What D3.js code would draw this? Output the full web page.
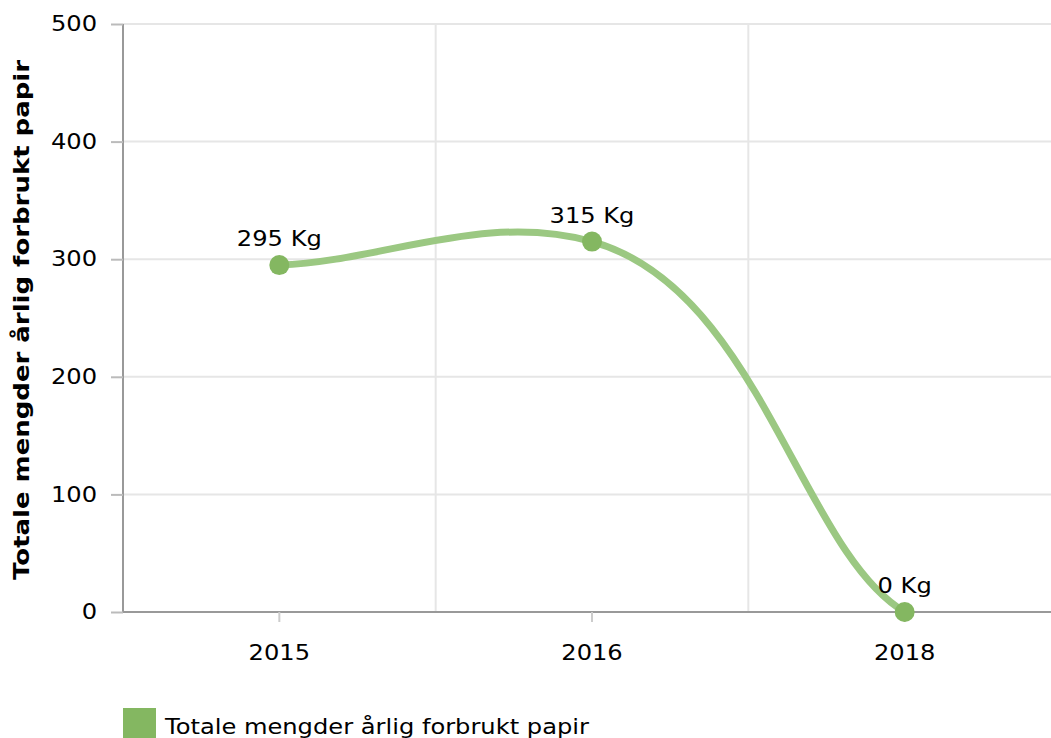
<!DOCTYPE html>
<html>
<head>
<meta charset="utf-8">
<script src="https://cdn.jsdelivr.net/npm/d3@7"></script>
<style>
  body { margin: 0; background: #fff; }
  svg { display: block; font-family: "DejaVu Sans", Verdana, sans-serif; }
</style>
</head>
<body>
<svg id="chart" width="1051" height="738"></svg>
<script>
// data
var years = ["2015", "2016", "2018"];
var values = [295, 315, 0];
var yTicks = [0, 100, 200, 300, 400, 500];
var seriesName = "Totale mengder årlig forbrukt papir";
var yTitle = "Totale mengder årlig forbrukt papir";

var lineColor = "#9bc882",
    dotColor = "#84b761";

var margin = {top: 24, left: 123, right: -10, bottom: 126};
var width = 1051 - margin.left - margin.right,     // plot runs a bit past the window
    height = 738 - margin.top - margin.bottom;

var stretch = 1.15;                                 // the original text is drawn a bit wider

var svg = d3.select("#chart");
var g = svg.append("g").attr("transform", "translate(" + margin.left + "," + margin.top + ")");

var x = d3.scaleBand().domain(years).range([0, width]);
var y = d3.scaleLinear().domain([0, 500]).range([height, 0]);

// widen a text selection to match the original
function widen(sel, k){
    sel.each(function(){
        var w = this.getComputedTextLength();
        d3.select(this).attr("textLength", w * k).attr("lengthAdjust", "spacingAndGlyphs");
    });
}

// smoothed line, control handles like the charting tool of the original
function SmoothCurve(context){ this._context = context; }
SmoothCurve.prototype = {
    areaStart: function(){},
    areaEnd: function(){},
    lineStart: function(){ this._pts = []; },
    point: function(px, py){ this._pts.push([+px, +py]); },
    lineEnd: function(){
        var p = this._pts, c = this._context, n = p.length, k = 0.44;
        if (!n) return;
        c.moveTo(p[0][0], p[0][1]);
        if (n == 1) return;
        var h = [];
        for (var i = 0; i < n; i++){
            if (i == 0){
                var r0 = [(p[1][0] - p[0][0]) / 3, (p[1][1] - p[0][1]) / 6];
                h.push({l: r0, r: r0});
            }
            else if (i == n - 1){
                var l1 = [(p[i][0] - p[i-1][0]) / 3, (p[i][1] - p[i-1][1]) / 6];
                h.push({l: l1, r: l1});
            }
            else {
                var tx = p[i+1][0] - p[i-1][0],
                    ty = (p[i+1][1] - p[i-1][1]) / 2;
                var dL = Math.hypot(p[i][0] - p[i-1][0], p[i][1] - p[i-1][1]),
                    dR = Math.hypot(p[i+1][0] - p[i][0], p[i+1][1] - p[i][1]);
                var fl = k * dL / (dL + dR), fr = k * dR / (dL + dR);
                h.push({l: [tx * fl, ty * fl], r: [tx * fr, ty * fr]});
            }
        }
        for (var j = 0; j < n - 1; j++){
            c.bezierCurveTo(p[j][0] + h[j].r[0], p[j][1] + h[j].r[1],
                            p[j+1][0] - h[j+1].l[0], p[j+1][1] - h[j+1].l[1],
                            p[j+1][0], p[j+1][1]);
        }
    }
};
function curveSmooth(context){ return new SmoothCurve(context); }

// horizontal grid
g.selectAll(".hgrid").data(yTicks.slice(1)).enter().append("line")
    .attr("x1", 0).attr("x2", width)
    .attr("y1", function(d){ return y(d); }).attr("y2", function(d){ return y(d); })
    .attr("stroke", "#e6e6e6").attr("stroke-width", 2);

// vertical grid at band borders
g.selectAll(".vgrid").data(years.slice(1)).enter().append("line")
    .attr("x1", function(d){ return x(d); }).attr("x2", function(d){ return x(d); })
    .attr("y1", 0).attr("y2", height)
    .attr("stroke", "#e6e6e6").attr("stroke-width", 2);

// y axis
var yAxis = g.append("g").call(d3.axisLeft(y).tickValues(yTicks).tickSize(12).tickPadding(14));
yAxis.select(".domain").attr("stroke", "#999").attr("stroke-width", 2).attr("d", "M0,0V" + height);
yAxis.selectAll(".tick line").attr("stroke", "#bbb").attr("stroke-width", 2);
yAxis.selectAll(".tick text").attr("font-size", 21).attr("fill", "#000").attr("font-family", "DejaVu Sans")
    .call(widen, stretch);

// x axis
var xAxis = g.append("g").attr("transform", "translate(0," + height + ")")
    .call(d3.axisBottom(x).tickSize(10).tickPadding(23));
xAxis.select(".domain").attr("stroke", "#999").attr("stroke-width", 2).attr("d", "M0,0H" + width);
xAxis.selectAll(".tick line").attr("stroke", "#ccc").attr("stroke-width", 2);
xAxis.selectAll(".tick text").attr("font-size", 21).attr("fill", "#000").attr("font-family", "DejaVu Sans")
    .call(widen, stretch);

// y title
svg.append("text")
    .attr("transform", "translate(29," + (margin.top + height / 2 + 2) + ") rotate(-90)")
    .attr("text-anchor", "middle")
    .attr("font-size", 22).attr("font-weight", "bold")
    .text(yTitle)
    .call(widen, 1.18);

// series
var pts = years.map(function(d, i){ return [x(d) + x.bandwidth() / 2, y(values[i])]; });

var line = d3.line().curve(curveSmooth);
g.append("path")
    .attr("d", line(pts))
    .attr("fill", "none")
    .attr("stroke", lineColor)
    .attr("stroke-width", 7)
    .attr("stroke-linecap", "round");

g.selectAll(".dot").data(pts).enter().append("circle")
    .attr("cx", function(d){ return d[0]; })
    .attr("cy", function(d){ return d[1]; })
    .attr("r", 10)
    .attr("fill", dotColor);

g.selectAll(".lbl").data(values).enter().append("text")
    .attr("x", function(d, i){ return pts[i][0]; })
    .attr("y", function(d, i){ return pts[i][1] - 19; })
    .attr("text-anchor", "middle")
    .attr("font-size", 21)
    .text(function(d){ return d + " Kg"; })
    .call(widen, stretch);

// legend
var legend = svg.append("g").attr("transform", "translate(123,708)");
legend.append("rect").attr("width", 33).attr("height", 33).attr("fill", dotColor);
legend.append("text").attr("x", 42).attr("y", 26).attr("font-size", 21).text(seriesName)
    .call(widen, stretch);
</script>
</body>
</html>
